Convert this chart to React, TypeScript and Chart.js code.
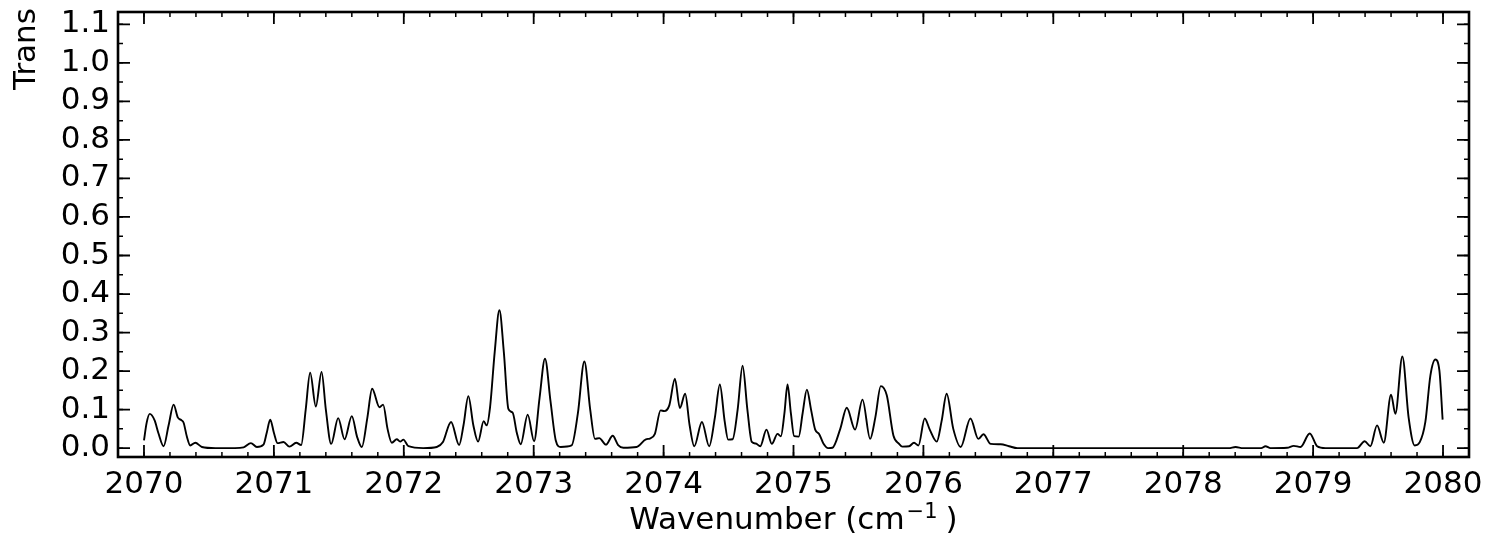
import { useEffect, useRef } from "react";
import { Chart, registerables } from "chart.js";

Chart.register(...registerables);

// ---- Data ----
const WAVENUMBER = [
  2070.0, 2070.02, 2070.044, 2070.082, 2070.11, 2070.151, 2070.19, 2070.228, 2070.26, 2070.29,
  2070.305, 2070.33, 2070.356, 2070.395, 2070.446, 2070.55, 2070.7, 2070.767, 2070.823, 2070.869,
  2070.92, 2070.945, 2070.972, 2071.0, 2071.028, 2071.074, 2071.12, 2071.172, 2071.21, 2071.245,
  2071.279, 2071.323, 2071.367, 2071.4, 2071.441, 2071.495, 2071.544, 2071.6, 2071.64, 2071.677,
  2071.72, 2071.756, 2071.813, 2071.841, 2071.875, 2071.908, 2071.946, 2071.972, 2071.997, 2072.036,
  2072.15, 2072.254, 2072.3, 2072.364, 2072.426, 2072.46, 2072.497, 2072.535, 2072.572, 2072.615,
  2072.638, 2072.664, 2072.7, 2072.736, 2072.77, 2072.805, 2072.838, 2072.87, 2072.9, 2072.954,
  2073.003, 2073.045, 2073.087, 2073.13, 2073.17, 2073.208, 2073.292, 2073.34, 2073.39, 2073.435,
  2073.472, 2073.505, 2073.556, 2073.608, 2073.65, 2073.69, 2073.792, 2073.864, 2073.895, 2073.933,
  2073.977, 2074.005, 2074.044, 2074.087, 2074.125, 2074.166, 2074.2, 2074.236, 2074.295, 2074.351,
  2074.395, 2074.433, 2074.47, 2074.497, 2074.531, 2074.57, 2074.608, 2074.645, 2074.679, 2074.71,
  2074.744, 2074.792, 2074.833, 2074.877, 2074.903, 2074.93, 2074.954, 2074.98, 2075.005, 2075.04,
  2075.07, 2075.103, 2075.135, 2075.167, 2075.197, 2075.23, 2075.267, 2075.3, 2075.36, 2075.41,
  2075.474, 2075.531, 2075.59, 2075.63, 2075.672, 2075.718, 2075.769, 2075.813, 2075.838, 2075.89,
  2075.928, 2075.962, 2076.01, 2076.049, 2076.103, 2076.14, 2076.179, 2076.23, 2076.287, 2076.362,
  2076.423, 2076.462, 2076.518, 2076.595, 2076.659, 2076.723, 2077.5, 2078.35, 2078.403, 2078.46,
  2078.6, 2078.633, 2078.672, 2078.8, 2078.851, 2078.903, 2078.974, 2079.031, 2079.095, 2079.338,
  2079.397, 2079.441, 2079.492, 2079.544, 2079.6, 2079.633, 2079.687, 2079.735, 2079.782, 2079.82,
  2079.864, 2079.903, 2079.941, 2079.972, 2079.997,
];

const TRANSMISSION = [
  0.02, 0.065, 0.089, 0.072, 0.04, 0.005, 0.06, 0.113, 0.08, 0.072,
  0.066, 0.03, 0.007, 0.014, 0.003, 0.0, 0.0, 0.002, 0.013, 0.003,
  0.009, 0.04, 0.074, 0.04, 0.013, 0.016, 0.004, 0.014, 0.008, 0.1,
  0.196, 0.108, 0.198, 0.1, 0.011, 0.078, 0.023, 0.083, 0.03, 0.003,
  0.08, 0.154, 0.106, 0.113, 0.05, 0.014, 0.023, 0.017, 0.022, 0.005,
  0.0, 0.003, 0.015, 0.068, 0.008, 0.06, 0.135, 0.06, 0.017, 0.07,
  0.059, 0.106, 0.25, 0.358, 0.25, 0.102, 0.092, 0.04, 0.01, 0.087,
  0.018, 0.13, 0.232, 0.12, 0.02, 0.003, 0.007, 0.09, 0.225, 0.1,
  0.024, 0.026, 0.009, 0.032, 0.008, 0.001, 0.003, 0.023, 0.025, 0.037,
  0.098, 0.096, 0.111, 0.18, 0.104, 0.141, 0.06, 0.005, 0.068, 0.005,
  0.08, 0.165, 0.07, 0.022, 0.023, 0.1, 0.214, 0.1, 0.016, 0.012,
  0.005, 0.048, 0.011, 0.037, 0.031, 0.09, 0.165, 0.09, 0.031, 0.03,
  0.09, 0.152, 0.1, 0.048, 0.037, 0.012, 0.0, 0.001, 0.05, 0.105,
  0.048, 0.126, 0.024, 0.08, 0.161, 0.137, 0.033, 0.011, 0.004, 0.005,
  0.014, 0.007, 0.077, 0.048, 0.017, 0.07, 0.141, 0.05, 0.003, 0.077,
  0.024, 0.036, 0.011, 0.01, 0.005, 0.0, 0.0, 0.0, 0.003, 0.0,
  0.0, 0.005, 0.0, 0.001, 0.006, 0.003, 0.038, 0.005, 0.0, 0.0,
  0.018, 0.005, 0.059, 0.014, 0.139, 0.089, 0.238, 0.08, 0.007, 0.015,
  0.068, 0.189, 0.23, 0.202, 0.074,
];

const X_MAJOR_TICKS = [2070, 2071, 2072, 2073, 2074, 2075, 2076, 2077, 2078, 2079, 2080];
const Y_MAJOR_TICKS = [0.0, 0.1, 0.2, 0.3, 0.4, 0.5, 0.6, 0.7, 0.8, 0.9, 1.0, 1.1];
const X_MINOR_PER_MAJOR = 5;
const Y_MINOR_PER_MAJOR = 2;

const X_MIN = 2069.8;
const X_MAX = 2080.2;
const Y_MIN = -0.023;
const Y_MAX = 1.132;

const X_TITLE_MAIN = "Wavenumber (cm";
const X_TITLE_SUP = "\u22121";
const X_TITLE_END = ")";
const Y_TITLE = "Trans";

const FONT = "'DejaVu Sans', sans-serif";

function minorTicks(major: number[], per: number): number[] {
  const out: number[] = [];
  const step = (major[1] - major[0]) / per;
  for (let i = 0; i < major.length; i++) {
    for (let k = -per; k < per; k++) {
      out.push(major[i] + k * step);
    }
  }
  return out;
}

const framePlugin = {
  id: "mplFrame",
  afterDraw(chart: any) {
    const { ctx, chartArea: a, scales } = chart;
    const xs = scales.x;
    const ys = scales.y;
    ctx.save();
    ctx.strokeStyle = "#000";
    ctx.lineCap = "butt";

    const drawTicks = (vals: number[], len: number, width: number, axis: "x" | "y") => {
      ctx.lineWidth = width;
      ctx.beginPath();
      for (const v of vals) {
        if (axis === "x") {
          if (v < X_MIN || v > X_MAX) continue;
          const px = xs.getPixelForValue(v);
          ctx.moveTo(px, a.bottom);
          ctx.lineTo(px, a.bottom - len);
          ctx.moveTo(px, a.top);
          ctx.lineTo(px, a.top + len);
        } else {
          if (v < Y_MIN || v > Y_MAX) continue;
          const py = ys.getPixelForValue(v);
          ctx.moveTo(a.left, py);
          ctx.lineTo(a.left + len, py);
          ctx.moveTo(a.right, py);
          ctx.lineTo(a.right - len, py);
        }
      }
      ctx.stroke();
    };

    drawTicks(minorTicks(X_MAJOR_TICKS, X_MINOR_PER_MAJOR), 5, 1.5, "x");
    drawTicks(minorTicks(Y_MAJOR_TICKS, Y_MINOR_PER_MAJOR), 5, 1.5, "y");
    drawTicks(X_MAJOR_TICKS, 12, 1.8, "x");
    drawTicks(Y_MAJOR_TICKS, 12, 1.8, "y");

    ctx.lineWidth = 2.6;
    ctx.strokeRect(a.left, a.top, a.right - a.left, a.bottom - a.top);

    // x-axis title with superscript
    ctx.fillStyle = "#000";
    ctx.textBaseline = "alphabetic";
    ctx.textAlign = "left";
    const mainFont = `31px ${FONT}`;
    const supFont = `21px ${FONT}`;
    ctx.font = mainFont;
    const w1 = ctx.measureText(X_TITLE_MAIN).width;
    const w3 = ctx.measureText(X_TITLE_END).width;
    ctx.font = supFont;
    const w2 = ctx.measureText(X_TITLE_SUP).width;
    const gap = 8;
    const total = w1 + 2 + w2 + gap + w3;
    const cx = (a.left + a.right) / 2;
    let x0 = cx - total / 2;
    const base = 529;
    ctx.font = mainFont;
    ctx.fillText(X_TITLE_MAIN, x0, base);
    x0 += w1 + 2;
    ctx.font = supFont;
    ctx.fillText(X_TITLE_SUP, x0, base - 11);
    x0 += w2 + gap;
    ctx.font = mainFont;
    ctx.fillText(X_TITLE_END, x0, base);

    // y-axis title (rotated)
    ctx.save();
    ctx.translate(35, 90);
    ctx.rotate(-Math.PI / 2);
    ctx.font = `31px ${FONT}`;
    ctx.textAlign = "left";
    ctx.textBaseline = "alphabetic";
    ctx.fillText(Y_TITLE, 0, 0);
    ctx.restore();

    ctx.restore();
  },
};

const zeroPad = (scale: any) => {
  scale.paddingTop = 0;
  scale.paddingBottom = 0;
  scale.paddingLeft = 0;
  scale.paddingRight = 0;
};

export default function App() {
  const ref = useRef<HTMLCanvasElement | null>(null);

  useEffect(() => {
    document.body.style.margin = "0";
    const canvas = ref.current;
    if (!canvas) return;
    const points = WAVENUMBER.map((x, i) => ({ x, y: TRANSMISSION[i] }));
    const chart = new Chart(canvas, {
      type: "line",
      data: {
        datasets: [
          {
            data: points,
            borderColor: "#000",
            borderWidth: 1.9,
            pointRadius: 0,
            fill: false,
            cubicInterpolationMode: "monotone",
          },
        ],
      },
      options: {
        animation: false,
        responsive: false,
        maintainAspectRatio: false,
        devicePixelRatio: 1,
        layout: { padding: { left: 0, top: 12, right: 20, bottom: 0 } },
        plugins: {
          legend: { display: false },
          tooltip: { enabled: false },
          title: { display: false },
        },
        scales: {
          x: {
            type: "linear",
            min: X_MIN,
            max: X_MAX,
            grid: { display: false, drawTicks: false },
            border: { display: false },
            afterBuildTicks: (scale: any) => {
              scale.ticks = X_MAJOR_TICKS.map((v) => ({ value: v }));
            },
            afterFit: (scale: any) => {
              scale.height = 81;
              zeroPad(scale);
            },
            ticks: {
              color: "#000",
              padding: 9,
              maxRotation: 0,
              autoSkip: false,
              font: { family: FONT, size: 31 },
              callback: (v: any) => String(Math.round(Number(v))),
            },
          },
          y: {
            type: "linear",
            min: Y_MIN,
            max: Y_MAX,
            grid: { display: false, drawTicks: false },
            border: { display: false },
            afterBuildTicks: (scale: any) => {
              scale.ticks = Y_MAJOR_TICKS.map((v) => ({ value: v }));
            },
            afterFit: (scale: any) => {
              scale.width = 118;
              zeroPad(scale);
            },
            ticks: {
              color: "#000",
              padding: 8,
              autoSkip: false,
              font: { family: FONT, size: 31 },
              callback: (v: any) => Number(v).toFixed(1),
            },
          },
        },
      },
      plugins: [framePlugin],
    });
    return () => chart.destroy();
  }, []);

  return (
    <div style={{ width: 1489, height: 538, background: "#fff" }}>
      <canvas ref={ref} width={1489} height={538} style={{ display: "block", width: 1489, height: 538 }} />
    </div>
  );
}
